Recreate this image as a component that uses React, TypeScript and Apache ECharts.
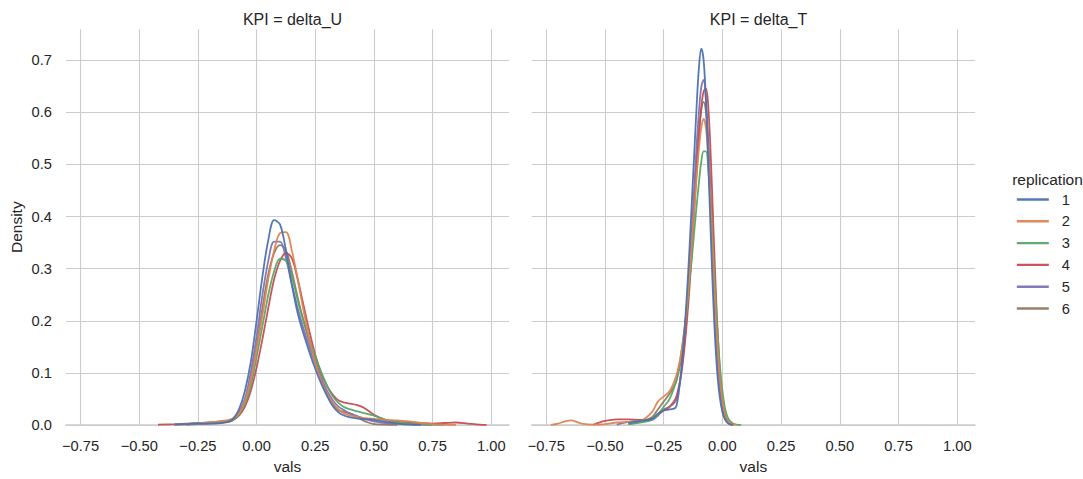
import React, { useEffect, useRef } from "react";
import * as echarts from "echarts";

const REPLICATIONS = ["1", "2", "3", "4", "5", "6"];
const COLORS = ["#4C72B0", "#DD8452", "#55A868", "#C44E52", "#8172B3", "#937860"];
const PANEL_TITLES = ["KPI = delta_U", "KPI = delta_T"];
const X_TICKS = [-0.75, -0.5, -0.25, 0, 0.25, 0.5, 0.75, 1.0];
const Y_TICKS = [0, 0.1, 0.2, 0.3, 0.4, 0.5, 0.6, 0.7];

// delta_U panel: shared x grid
const XU = [-0.42, -0.35, -0.3, -0.25, -0.2, -0.15, -0.12, -0.1, -0.075, -0.05, -0.025, 0, 0.025, 0.05, 0.075, 0.1, 0.125, 0.15, 0.175, 0.2, 0.225, 0.25, 0.275, 0.3, 0.325, 0.35, 0.375, 0.4, 0.425, 0.45, 0.475, 0.5, 0.55, 0.6, 0.65, 0.7, 0.75, 0.8, 0.85, 0.9, 0.95, 0.98];
const U1 = [null, 0.001, 0.002, 0.003, 0.003, 0.004, 0.006, 0.012, 0.03, 0.065, 0.12, 0.2, 0.285, 0.355, 0.393, 0.385, 0.335, 0.27, 0.215, 0.175, 0.14, 0.108, 0.08, 0.056, 0.036, 0.024, 0.018, 0.015, 0.013, 0.012, 0.011, 0.01, 0.006, 0.003, 0.001, 0.0005, null, null, null, null, null, null];
const U2 = [null, 0.001, 0.002, 0.003, 0.005, 0.008, 0.01, 0.013, 0.022, 0.045, 0.085, 0.145, 0.21, 0.28, 0.335, 0.368, 0.37, 0.335, 0.28, 0.22, 0.165, 0.12, 0.085, 0.06, 0.042, 0.03, 0.022, 0.018, 0.016, 0.014, 0.013, 0.012, 0.01, 0.009, 0.007, 0.004, 0.002, 0.001, 0.0005, null, null, null];
const U3 = [null, 0.001, 0.002, 0.004, 0.005, 0.006, 0.007, 0.01, 0.02, 0.04, 0.075, 0.13, 0.19, 0.25, 0.295, 0.319, 0.315, 0.285, 0.24, 0.2, 0.165, 0.132, 0.102, 0.076, 0.055, 0.042, 0.034, 0.03, 0.027, 0.024, 0.021, 0.018, 0.01, 0.005, 0.003, 0.002, 0.001, 0.0005, null, null, null, null];
const U4 = [0.001, 0.002, 0.003, 0.004, 0.004, 0.005, 0.006, 0.01, 0.018, 0.035, 0.065, 0.11, 0.165, 0.225, 0.28, 0.315, 0.33, 0.32, 0.28, 0.23, 0.18, 0.135, 0.1, 0.075, 0.058, 0.047, 0.043, 0.041, 0.039, 0.035, 0.028, 0.02, 0.01, 0.006, 0.005, 0.004, 0.003, 0.004, 0.005, 0.003, 0.001, 0.0005];
const U5 = [null, null, 0.001, 0.002, 0.003, 0.005, 0.007, 0.012, 0.025, 0.05, 0.1, 0.17, 0.25, 0.315, 0.352, 0.352, 0.32, 0.27, 0.225, 0.185, 0.15, 0.118, 0.09, 0.066, 0.047, 0.035, 0.028, 0.022, 0.018, 0.014, 0.01, 0.007, 0.004, 0.003, 0.002, 0.001, 0.0005, null, null, null, null, null];
const U6 = [null, null, 0.001, 0.003, 0.005, 0.007, 0.008, 0.01, 0.02, 0.042, 0.085, 0.15, 0.225, 0.29, 0.33, 0.345, 0.335, 0.295, 0.245, 0.2, 0.16, 0.125, 0.09, 0.06, 0.04, 0.028, 0.025, 0.022, 0.016, 0.01, 0.005, 0.002, 0.001, 0.0005, null, null, null, null, null, null, null, null];

// delta_T panel: shared x grid
const XT = [-0.73, -0.7, -0.67, -0.645, -0.62, -0.6, -0.55, -0.5, -0.45, -0.4, -0.35, -0.3, -0.275, -0.25, -0.225, -0.2, -0.19, -0.18, -0.17, -0.16, -0.15, -0.14, -0.13, -0.12, -0.11, -0.1, -0.09, -0.08, -0.07, -0.06, -0.05, -0.04, -0.03, -0.02, -0.01, 0, 0.01, 0.02, 0.03, 0.045, 0.06, 0.08, 0.1];
const T1 = [null, null, null, null, null, null, null, null, null, 0.004, 0.008, 0.012, 0.022, 0.028, 0.03, 0.033, 0.05, 0.085, 0.13, 0.19, 0.26, 0.34, 0.43, 0.52, 0.61, 0.685, 0.722, 0.7, 0.62, 0.5, 0.37, 0.25, 0.155, 0.09, 0.05, 0.025, 0.012, 0.005, 0.002, 0.0005, null, null, null];
const T2 = [0.0005, 0.003, 0.007, 0.009, 0.006, 0.003, 0.001, 0.002, 0.005, 0.006, 0.008, 0.025, 0.045, 0.055, 0.065, 0.09, 0.105, 0.125, 0.155, 0.19, 0.235, 0.29, 0.35, 0.415, 0.475, 0.53, 0.57, 0.587, 0.57, 0.51, 0.42, 0.32, 0.225, 0.145, 0.085, 0.045, 0.022, 0.01, 0.004, 0.0015, 0.0005, null, null];
const T3 = [null, null, null, null, null, null, null, null, null, 0.002, 0.005, 0.01, 0.02, 0.035, 0.05, 0.08, 0.1, 0.125, 0.155, 0.19, 0.23, 0.275, 0.32, 0.37, 0.42, 0.465, 0.505, 0.525, 0.525, 0.49, 0.42, 0.34, 0.255, 0.175, 0.11, 0.065, 0.035, 0.018, 0.009, 0.003, 0.001, 0.0003, null];
const T4 = [null, null, null, null, null, null, 0.0005, 0.008, 0.011, 0.011, 0.01, 0.012, 0.02, 0.028, 0.035, 0.05, 0.065, 0.085, 0.115, 0.155, 0.205, 0.265, 0.335, 0.41, 0.485, 0.555, 0.61, 0.64, 0.645, 0.61, 0.52, 0.4, 0.28, 0.175, 0.1, 0.05, 0.024, 0.01, 0.004, 0.001, null, null, null];
const T5 = [null, null, null, null, null, null, null, null, 0.001, 0.006, 0.009, 0.01, 0.018, 0.03, 0.035, 0.045, 0.06, 0.085, 0.12, 0.165, 0.225, 0.295, 0.375, 0.455, 0.535, 0.6, 0.648, 0.662, 0.625, 0.54, 0.42, 0.3, 0.195, 0.115, 0.062, 0.03, 0.014, 0.006, 0.002, 0.0005, null, null, null];
const T6 = [null, null, null, null, null, null, null, null, null, 0.002, 0.006, 0.015, 0.03, 0.045, 0.06, 0.08, 0.095, 0.115, 0.145, 0.185, 0.235, 0.295, 0.36, 0.43, 0.5, 0.56, 0.603, 0.62, 0.6, 0.54, 0.44, 0.33, 0.225, 0.14, 0.08, 0.04, 0.019, 0.008, 0.003, 0.001, null, null, null];

const U_SERIES = [U1, U2, U3, U4, U5, U6];
const T_SERIES = [T1, T2, T3, T4, T5, T6];

const FONT = '"Liberation Sans", Arial, Helvetica, sans-serif';
const TEXT = "#262626";
const GRIDC = "#cccccc";

function pairs(xs: number[], ys: (number | null)[]) {
  const out: number[][] = [];
  for (let i = 0; i < xs.length; i++) {
    const y = ys[i];
    if (y !== null && y !== undefined) out.push([xs[i], y]);
  }
  return out;
}

function fmtX(v: number) {
  const s = Math.abs(v).toFixed(2);
  return v < 0 ? "\u2212" + s : s;
}

export default function App() {
  const ref = useRef<HTMLDivElement>(null);
  useEffect(() => {
    if (!ref.current) return;
    const chart = echarts.init(ref.current, undefined, { renderer: "svg" });
    const XMIN = -0.812;
    const XMAX = 1.0755;
    const YMAX = 0.759;

    const xAxis = (gi: number) => ({
      type: "value",
      gridIndex: gi,
      min: XMIN,
      max: XMAX,
      name: "vals",
      nameLocation: "middle",
      nameGap: 30,
      nameTextStyle: { fontSize: 15.5, color: TEXT, fontFamily: FONT },
      axisLine: { show: true, onZero: false, lineStyle: { color: GRIDC, width: 1.6 } },
      axisTick: { show: false, customValues: X_TICKS },
      axisLabel: {
        customValues: X_TICKS,
        formatter: (v: number) => fmtX(v),
        fontSize: 14.7,
        color: TEXT,
        fontFamily: FONT,
        margin: 13,
      },
      splitLine: { show: true, lineStyle: { color: GRIDC, width: 1.1 } },
    });
    const yAxis = (gi: number, showLabels: boolean) => ({
      type: "value",
      gridIndex: gi,
      min: 0,
      max: YMAX,
      name: showLabels ? "Density" : "",
      nameLocation: "middle",
      nameRotate: 90,
      nameGap: 42,
      nameTextStyle: { fontSize: 15.5, color: TEXT, fontFamily: FONT },
      axisLine: { show: false },
      axisTick: { show: false, customValues: Y_TICKS },
      axisLabel: {
        show: showLabels,
        customValues: Y_TICKS,
        formatter: (v: number) => v.toFixed(1),
        fontSize: 14.7,
        color: TEXT,
        fontFamily: FONT,
        margin: 14,
      },
      splitLine: { show: true, lineStyle: { color: GRIDC, width: 1.1 } },
    });

    const series: any[] = [];
    [U_SERIES, T_SERIES].forEach((group, gi) => {
      const xs = gi === 0 ? XU : XT;
      for (let r = REPLICATIONS.length - 1; r >= 0; r--) {
        series.push({
          type: "line",
          name: REPLICATIONS[r],
          xAxisIndex: gi,
          yAxisIndex: gi,
          data: pairs(xs, group[r]),
          showSymbol: false,
          symbol: "none",
          smooth: 0.35,
          color: COLORS[r],
          lineStyle: { color: COLORS[r], width: 1.8, opacity: 0.95 },
          z: 3,
        });
      }
    });

    chart.setOption({
      animation: false,
      backgroundColor: "#ffffff",
      textStyle: { fontFamily: FONT },
      title: [
        { text: PANEL_TITLES[0], left: 287.5, top: 6, textAlign: "center", textStyle: { fontSize: 16, fontWeight: "normal", color: TEXT, fontFamily: FONT } },
        { text: PANEL_TITLES[1], left: 753.5, top: 6, textAlign: "center", textStyle: { fontSize: 16, fontWeight: "normal", color: TEXT, fontFamily: FONT } },
        { text: "replication", left: 1042.5, top: 166, textAlign: "center", textStyle: { fontSize: 15.5, fontWeight: "normal", color: TEXT, fontFamily: FONT } },
      ],
      legend: {
        data: REPLICATIONS,
        orient: "vertical",
        right: 13,
        align: "left",
        top: 192,
        itemWidth: 32,
        itemHeight: 14,
        itemGap: 6.8,
        padding: 0,
        itemStyle: { opacity: 0 },
        lineStyle: { width: 2.4 },
        textStyle: { fontSize: 14.7, color: TEXT, fontFamily: FONT, padding: [0, 0, 0, 8] },
        selectedMode: false,
      },
      grid: [
        { left: 66, top: 29.3, width: 443, height: 402.4 },
        { left: 531.7, top: 29.3, width: 443.3, height: 402.4 },
      ],
      xAxis: [xAxis(0), xAxis(1)],
      yAxis: [yAxis(0, true), yAxis(1, false)],
      series,
    });
    return () => chart.dispose();
  }, []);
  return <div ref={ref} style={{ position: "absolute", left: 0, top: 0, width: 1083, height: 479, background: "#fff" }} />;
}
